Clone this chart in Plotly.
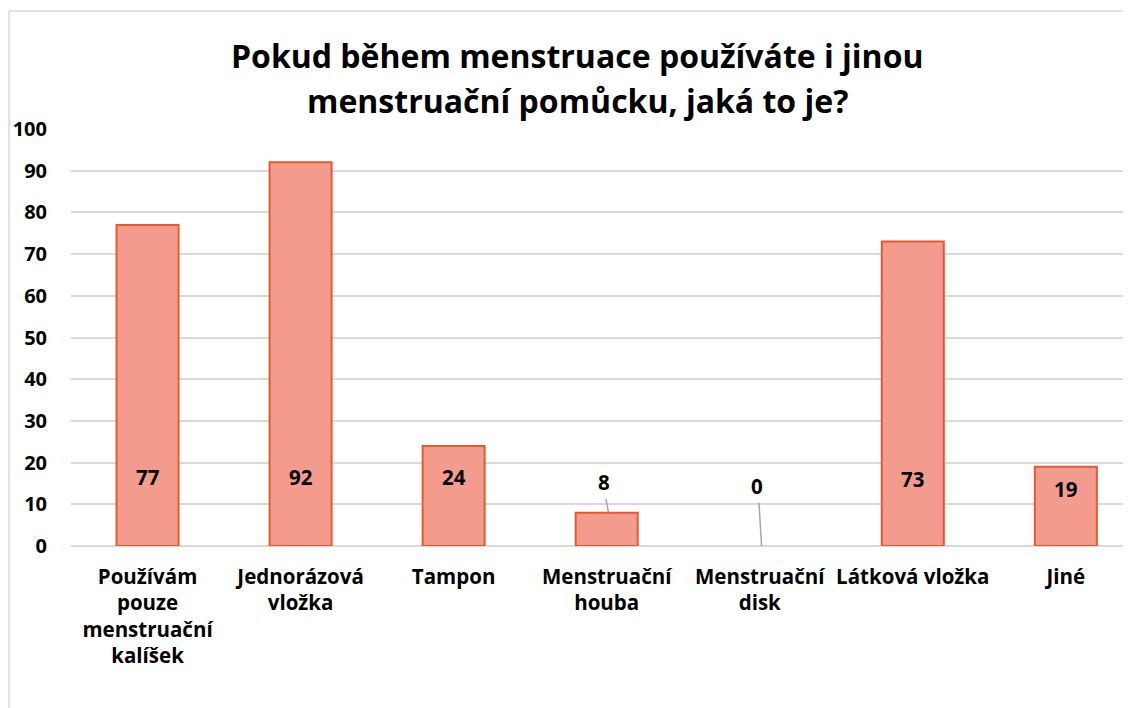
import plotly.graph_objects as go

categories = [
    "Používám<br>pouze<br>menstruační<br>kalíšek",
    "Jednorázová<br>vložka",
    "Tampon",
    "Menstruační<br>houba",
    "Menstruační<br>disk",
    "Látková vložka",
    "Jiné",
]
values = [77, 92, 24, 8, 0, 73, 19]
y_ticks = [0, 10, 20, 30, 40, 50, 60, 70, 80, 90, 100]
title_lines = ["Pokud během menstruace používáte i jinou",
               "menstruační pomůcku, jaká to je?"]

# label placement (style): y position of each data label, and whether it has a leader line
label_y = [16.5, 16.5, 16.5, 15.3, 14.4, 16.0, 13.7]
leader = [False, False, False, True, True, False, False]
label_dx = [0, 0, 0, -3, -3, 0, 0]

FONT = "Open Sans"
W, H = 1131, 708
ML, MT, MB = 63, 121, 170
PW = W - ML
PH = H - MT - MB
CAT_PX = 153.05

fig = go.Figure()
fig.add_trace(go.Bar(
    x=list(range(len(categories))),
    y=values,
    marker=dict(color="#F39B8C",
                line=dict(color="#E9572F", width=[2 if v > 0 else 0 for v in values])),
    width=62 / CAT_PX,
    hoverinfo="skip",
))

for i, (v, ly) in enumerate(zip(values, label_y)):
    fig.add_annotation(
        x=i, y=ly, text=f"<b>{v}</b>", showarrow=False,
        xshift=label_dx[i],
        font=dict(family=FONT, size=20.5, color="#000000"),
    )
    if leader[i]:
        fig.add_shape(
            type="line", x0=i - 0.005, x1=i + 0.012, y0=ly - 4.0, y1=v,
            line=dict(color="#A6A6A6", width=1.5), layer="above",
        )

# title as two lines
for k, (line, ypx) in enumerate(zip(title_lines, [47, 92])):
    fig.add_annotation(
        xref="paper", yref="paper",
        x=(569 - ML) / PW, y=(H - MB - ypx) / PH,
        text=f"<b>{line}</b>", showarrow=False,
        xanchor="center", yanchor="middle",
        font=dict(family=FONT, size=32, color="#000000"),
    )

# outer chart border (cropped)
bx = (1 - ML) / PW
by = (H - MB - 3) / PH
fig.add_shape(type="line", xref="paper", yref="paper",
              x0=bx, x1=bx, y0=by, y1=-0.45,
              line=dict(color="#D9D9D9", width=1.5))
fig.add_shape(type="line", xref="paper", yref="paper",
              x0=bx, x1=1.05, y0=by, y1=by,
              line=dict(color="#D9D9D9", width=1.5))

fig.update_layout(
    width=W, height=H,
    margin=dict(l=ML, r=0, t=MT, b=MB, pad=0),
    paper_bgcolor="#FFFFFF", plot_bgcolor="#FFFFFF",
    showlegend=False,
    font=dict(family=FONT, color="#000000"),
)
fig.update_xaxes(
    range=[-0.5, -0.5 + PW / CAT_PX],
    tickmode="array", tickvals=list(range(len(categories))),
    ticktext=[f"<b>{c}</b>" for c in categories],
    tickfont=dict(family=FONT, size=20.5, color="#000000"),
    showgrid=False, zeroline=False, showline=False, ticks="",
    ticklabelstandoff=16, tickangle=0,
)
fig.update_yaxes(
    range=[0, 100], tickvals=y_ticks,
    ticktext=[f"<b>{t}</b>" for t in y_ticks],
    tickfont=dict(family=FONT, size=20, color="#000000"),
    showgrid=True, gridcolor="#D9D9D9", gridwidth=1.5,
    zeroline=True, zerolinecolor="#D9D9D9", zerolinewidth=1.5,
    showline=False, ticks="", ticklabelstandoff=23,
)

fig.write_html("out.html")
